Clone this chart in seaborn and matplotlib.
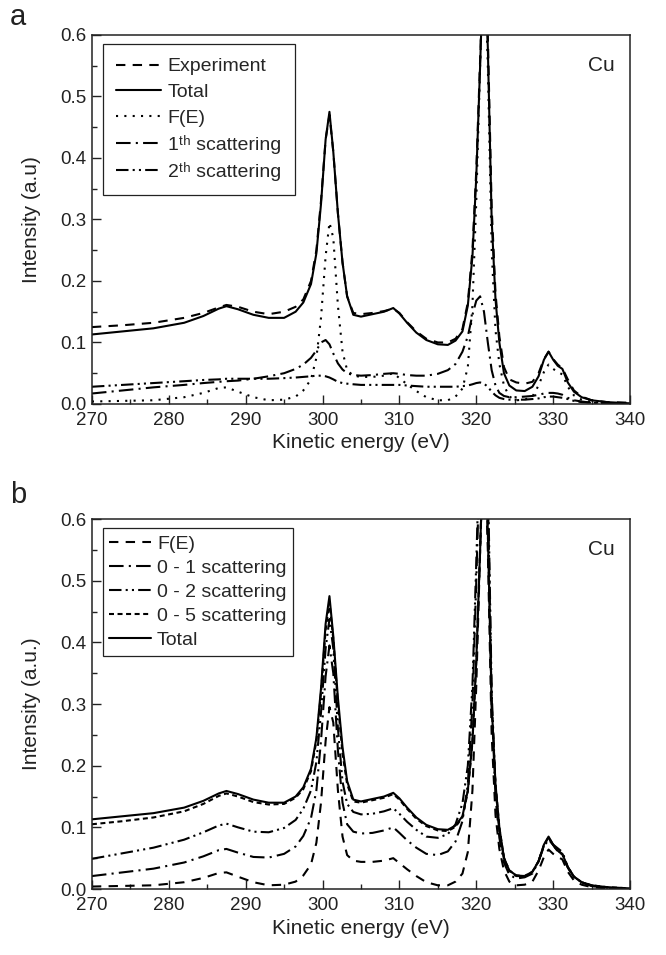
import numpy as np
import pandas as pd
import matplotlib
matplotlib.use("Agg")
import matplotlib.pyplot as plt
from matplotlib.ticker import MultipleLocator
import seaborn as sns

# energy grid shared by all curves (eV)
energy = [270, 274, 278, 282, 284.5, 286.5, 287.5, 289, 291, 293,
          295, 296.5, 297.5, 298.5, 299.2, 299.8, 300.4, 300.9, 301.4, 302,
          302.6, 303.2, 304, 305, 306.5, 308, 309.2, 310, 311, 312.2,
          313.5, 315, 316.3, 317.3, 318.2, 318.9, 319.5, 320, 320.5, 321,
          321.5, 322, 322.5, 323, 323.6, 324.3, 325.2, 326.3, 327.3, 328.1,
          328.8, 329.4, 330, 330.6, 331.2, 331.9, 332.7, 333.7, 335, 337,
          340]

total = [0.113, 0.118, 0.123, 0.132, 0.143, 0.155, 0.159, 0.154, 0.145, 0.140,
         0.140, 0.150, 0.165, 0.195, 0.245, 0.325, 0.430, 0.475, 0.410, 0.310,
         0.230, 0.175, 0.145, 0.142, 0.146, 0.150, 0.156, 0.147, 0.132, 0.116,
         0.104, 0.097, 0.096, 0.103, 0.118, 0.160, 0.240, 0.370, 0.550, 0.750,
         0.580, 0.300, 0.170, 0.100, 0.050, 0.030, 0.022, 0.021, 0.028, 0.045,
         0.072, 0.085, 0.072, 0.062, 0.057, 0.035, 0.020, 0.011, 0.006, 0.003,
         0.001]

experiment = [0.125, 0.128, 0.132, 0.140, 0.148, 0.157, 0.161, 0.158, 0.150, 0.146,
              0.150, 0.158, 0.170, 0.200, 0.250, 0.330, 0.430, 0.470, 0.410, 0.310,
              0.230, 0.175, 0.148, 0.146, 0.148, 0.151, 0.155, 0.148, 0.133, 0.118,
              0.106, 0.100, 0.100, 0.106, 0.122, 0.165, 0.250, 0.380, 0.560, 0.750,
              0.600, 0.320, 0.180, 0.110, 0.060, 0.040, 0.035, 0.033, 0.036, 0.050,
              0.073, 0.085, 0.073, 0.064, 0.058, 0.040, 0.022, 0.012, 0.006, 0.003,
              0.002]

f_e = [0.004, 0.005, 0.006, 0.011, 0.018, 0.026, 0.027, 0.020, 0.011, 0.006,
       0.007, 0.012, 0.022, 0.040, 0.075, 0.140, 0.240, 0.295, 0.270, 0.160,
       0.085, 0.055, 0.046, 0.044, 0.044, 0.046, 0.050, 0.042, 0.032, 0.021,
       0.011, 0.006, 0.006, 0.012, 0.025, 0.060, 0.160, 0.330, 0.550, 0.750,
       0.550, 0.250, 0.120, 0.065, 0.030, 0.012, 0.006, 0.007, 0.012, 0.030,
       0.052, 0.064, 0.057, 0.052, 0.048, 0.028, 0.014, 0.007, 0.003, 0.001,
       0.000]

scat_1 = [0.017, 0.022, 0.027, 0.031, 0.034, 0.036, 0.037, 0.038, 0.041, 0.045,
          0.050, 0.057, 0.064, 0.075, 0.087, 0.100, 0.104, 0.097, 0.082, 0.066,
          0.056, 0.050, 0.047, 0.046, 0.047, 0.049, 0.050, 0.049, 0.047, 0.046,
          0.046, 0.049, 0.055, 0.065, 0.085, 0.110, 0.145, 0.168, 0.175, 0.150,
          0.100, 0.055, 0.030, 0.018, 0.013, 0.011, 0.011, 0.012, 0.013, 0.015,
          0.017, 0.018, 0.018, 0.017, 0.015, 0.010, 0.006, 0.004, 0.002, 0.001,
          0.000]

scat_2 = [0.028, 0.031, 0.034, 0.037, 0.039, 0.040, 0.041, 0.041, 0.041, 0.041,
          0.042, 0.043, 0.044, 0.045, 0.046, 0.046, 0.045, 0.043, 0.040, 0.036,
          0.034, 0.033, 0.032, 0.031, 0.031, 0.031, 0.031, 0.031, 0.030, 0.029,
          0.028, 0.028, 0.028, 0.028, 0.029, 0.030, 0.032, 0.034, 0.035, 0.033,
          0.028, 0.020, 0.014, 0.010, 0.008, 0.007, 0.007, 0.007, 0.008, 0.009,
          0.011, 0.012, 0.012, 0.011, 0.010, 0.008, 0.005, 0.003, 0.002, 0.001,
          0.000]

sum_0_1 = [0.021, 0.027, 0.033, 0.043, 0.053, 0.063, 0.065, 0.059, 0.052, 0.051,
           0.057, 0.069, 0.086, 0.115, 0.160, 0.240, 0.345, 0.395, 0.350, 0.225,
           0.140, 0.105, 0.093, 0.090, 0.091, 0.095, 0.100, 0.091, 0.079, 0.067,
           0.057, 0.055, 0.061, 0.077, 0.110, 0.170, 0.300, 0.500, 0.720, 0.900,
           0.650, 0.300, 0.150, 0.083, 0.043, 0.023, 0.017, 0.019, 0.025, 0.045,
           0.069, 0.080, 0.072, 0.066, 0.060, 0.036, 0.020, 0.011, 0.005, 0.002,
           0.000]

sum_0_2 = [0.049, 0.058, 0.067, 0.080, 0.092, 0.103, 0.106, 0.100, 0.093, 0.092,
           0.099, 0.112, 0.130, 0.160, 0.206, 0.286, 0.390, 0.438, 0.390, 0.261,
           0.174, 0.138, 0.125, 0.121, 0.122, 0.126, 0.131, 0.122, 0.109, 0.096,
           0.085, 0.083, 0.089, 0.105, 0.139, 0.200, 0.330, 0.530, 0.750, 0.930,
           0.680, 0.320, 0.165, 0.093, 0.051, 0.030, 0.021, 0.021, 0.027, 0.045,
           0.071, 0.083, 0.071, 0.062, 0.057, 0.035, 0.020, 0.011, 0.005, 0.002,
           0.000]

sum_0_5 = [0.105, 0.110, 0.116, 0.126, 0.138, 0.151, 0.155, 0.150, 0.141, 0.137,
           0.138, 0.148, 0.162, 0.191, 0.240, 0.318, 0.420, 0.465, 0.405, 0.300,
           0.220, 0.170, 0.142, 0.140, 0.144, 0.148, 0.154, 0.145, 0.130, 0.114,
           0.102, 0.095, 0.094, 0.101, 0.116, 0.158, 0.238, 0.368, 0.550, 0.750,
           0.580, 0.300, 0.170, 0.100, 0.050, 0.030, 0.022, 0.021, 0.028, 0.045,
           0.071, 0.084, 0.071, 0.061, 0.056, 0.035, 0.020, 0.011, 0.006, 0.003,
           0.001]

sns.set_theme(style="ticks")
plt.rcParams["font.family"] = ["Liberation Sans", "DejaVu Sans"]

LW = 1.5
INK = "#222222"
DASHED = (0, (4.5, 3.5))
DOTTED = (0, (1, 3))
DASHDOT = (0, (7, 2.5, 1, 2.5))
DASHDOTDOT = (0, (6, 2, 1, 2, 1, 2))
SHORTDASH = (0, (2.4, 1.7))
SOLID = "-"

panel_a = [
    ("Experiment", experiment, DASHED),
    ("Total", total, SOLID),
    ("F(E)", f_e, DOTTED),
    ("1\u1d57\u02b0 scattering", scat_1, DASHDOT),
    ("2\u1d57\u02b0 scattering", scat_2, DASHDOTDOT),
]
panel_b = [
    ("F(E)", f_e, DASHED),
    ("0 - 1 scattering", sum_0_1, DASHDOT),
    ("0 - 2 scattering", sum_0_2, DASHDOTDOT),
    ("0 - 5 scattering", sum_0_5, SHORTDASH),
    ("Total", total, SOLID),
]

fig = plt.figure(figsize=(6.66, 9.55), dpi=100)
ax_a = fig.add_axes([0.138, 0.577, 0.808, 0.3864])
ax_b = fig.add_axes([0.138, 0.0691, 0.808, 0.3874])

panels = [
    (ax_a, panel_a, "Intensity (a.u)", dict(borderpad=0.7, labelspacing=0.42, handlelength=2.3, handletextpad=0.35)),
    (ax_b, panel_b, "Intensity (a.u.)", dict(borderpad=0.35, labelspacing=0.33, handlelength=2.15, handletextpad=0.3)),
]

for ax, series, ylabel, legkw in panels:
    for name, vals, ls in series:
        df = pd.DataFrame({"E": energy, "I": vals})
        sns.lineplot(data=df, x="E", y="I", ax=ax, color="black", lw=LW,
                     linestyle=ls, label=name, estimator=None, sort=False)
    ax.set_xlim(270, 340)
    ax.set_ylim(0, 0.6)
    ax.xaxis.set_major_locator(MultipleLocator(10))
    ax.xaxis.set_minor_locator(MultipleLocator(5))
    ax.yaxis.set_major_locator(MultipleLocator(0.1))
    ax.yaxis.set_minor_locator(MultipleLocator(0.05))
    ax.yaxis.set_major_formatter(matplotlib.ticker.FormatStrFormatter("%.1f"))
    ax.tick_params(which="major", direction="in", length=6.5, width=1.0,
                   labelsize=13.5, colors=INK)
    ax.tick_params(axis="x", which="major", pad=6)
    ax.tick_params(axis="y", which="major", pad=4)
    ax.tick_params(which="minor", direction="in", length=3.5, width=1.0, colors=INK)
    for sp in ax.spines.values():
        sp.set_linewidth(1.1)
        sp.set_color(INK)
        sp.set_visible(True)
    ax.set_xlabel("Kinetic energy (eV)", fontsize=15, color=INK, labelpad=3)
    ax.set_ylabel(ylabel, fontsize=15, color=INK, labelpad=14)
    ax.text(0.946, 0.918, "Cu", transform=ax.transAxes, ha="center",
            va="center", fontsize=15, color=INK)
    handles, labels = ax.get_legend_handles_labels()
    leg = ax.legend(handles, labels, loc="upper left",
                    bbox_to_anchor=(0.02, 0.975), fontsize=14,
                    frameon=True, fancybox=False, framealpha=1,
                    edgecolor=INK, borderaxespad=0, **legkw)
    leg.get_frame().set_linewidth(0.9)

fig.text(0.015, 0.974, "a", fontsize=21, color=INK, va="baseline")
fig.text(0.015, 0.473, "b", fontsize=21, color=INK, va="baseline")

fig.savefig("out.png", dpi=100)
